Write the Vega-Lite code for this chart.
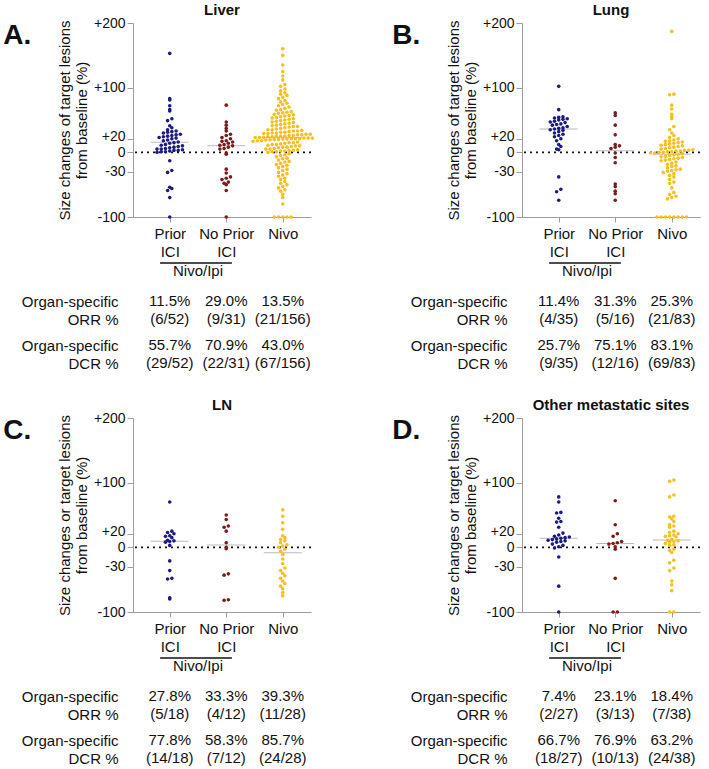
{
  "$schema": "https://vega.github.io/schema/vega-lite/v6.json",
  "padding": {"left": 3, "top": 3, "right": 2, "bottom": 0},
  "config": {
    "font": "Liberation Sans",
    "view": {"stroke": null},
    "axis": {"domainColor": "#9d9d9d", "tickColor": "#9d9d9d", "labelColor": "#111", "titleColor": "#111", "labelFontSize": 15, "titleFontSize": 15, "titleFontWeight": "normal", "grid": false, "labelOverlap": false, "labelFlush": false, "labelBound": false},
    "axisY": {"tickSize": 6, "labelPadding": 2, "titlePadding": 4, "titleLineHeight": 17, "labelFontSize": 14},
    "axisX": {"tickSize": 5, "labelPadding": 4, "labelLineHeight": 18},
    "title": {"fontSize": 15, "fontWeight": "bold", "color": "#111", "offset": -2},
    "text": {"fontSize": 15, "color": "#111"}
  },
  "datasets": {
    "liver": [
      {"arm":"Prior ICI","change":153},{"arm":"Prior ICI","change":83},{"arm":"Prior ICI","change":81},{"arm":"Prior ICI","change":72},{"arm":"Prior ICI","change":66},{"arm":"Prior ICI","change":64},{"arm":"Prior ICI","change":52},{"arm":"Prior ICI","change":49},{"arm":"Prior ICI","change":41},{"arm":"Prior ICI","change":38},
      {"arm":"Prior ICI","change":35},{"arm":"Prior ICI","change":33},{"arm":"Prior ICI","change":32},{"arm":"Prior ICI","change":31},{"arm":"Prior ICI","change":30},{"arm":"Prior ICI","change":28},{"arm":"Prior ICI","change":27},{"arm":"Prior ICI","change":26},{"arm":"Prior ICI","change":25},{"arm":"Prior ICI","change":24},
      {"arm":"Prior ICI","change":23},{"arm":"Prior ICI","change":22},{"arm":"Prior ICI","change":21},{"arm":"Prior ICI","change":19},{"arm":"Prior ICI","change":18},{"arm":"Prior ICI","change":16},{"arm":"Prior ICI","change":15},{"arm":"Prior ICI","change":14},{"arm":"Prior ICI","change":12},{"arm":"Prior ICI","change":11},
      {"arm":"Prior ICI","change":10},{"arm":"Prior ICI","change":9},{"arm":"Prior ICI","change":8},{"arm":"Prior ICI","change":7},{"arm":"Prior ICI","change":6},{"arm":"Prior ICI","change":5},{"arm":"Prior ICI","change":5},{"arm":"Prior ICI","change":4},{"arm":"Prior ICI","change":3},{"arm":"Prior ICI","change":3},
      {"arm":"Prior ICI","change":2},{"arm":"Prior ICI","change":1},{"arm":"Prior ICI","change":1},{"arm":"Prior ICI","change":0},{"arm":"Prior ICI","change":-13},{"arm":"Prior ICI","change":-28},{"arm":"Prior ICI","change":-31},{"arm":"Prior ICI","change":-54},{"arm":"Prior ICI","change":-56},{"arm":"Prior ICI","change":-59},
      {"arm":"Prior ICI","change":-70},{"arm":"Prior ICI","change":-100},
      {"arm":"No Prior ICI","change":73},{"arm":"No Prior ICI","change":47},{"arm":"No Prior ICI","change":42},{"arm":"No Prior ICI","change":37},{"arm":"No Prior ICI","change":33},{"arm":"No Prior ICI","change":28},{"arm":"No Prior ICI","change":26},{"arm":"No Prior ICI","change":23},{"arm":"No Prior ICI","change":21},{"arm":"No Prior ICI","change":18},
      {"arm":"No Prior ICI","change":17},{"arm":"No Prior ICI","change":16},{"arm":"No Prior ICI","change":14},{"arm":"No Prior ICI","change":12},{"arm":"No Prior ICI","change":11},{"arm":"No Prior ICI","change":10},{"arm":"No Prior ICI","change":8},{"arm":"No Prior ICI","change":6},{"arm":"No Prior ICI","change":5},{"arm":"No Prior ICI","change":-1},
      {"arm":"No Prior ICI","change":-3},{"arm":"No Prior ICI","change":-26},{"arm":"No Prior ICI","change":-32},{"arm":"No Prior ICI","change":-38},{"arm":"No Prior ICI","change":-40},{"arm":"No Prior ICI","change":-42},{"arm":"No Prior ICI","change":-46},{"arm":"No Prior ICI","change":-48},{"arm":"No Prior ICI","change":-50},{"arm":"No Prior ICI","change":-59},
      {"arm":"No Prior ICI","change":-100},
      {"arm":"Nivo","change":160},{"arm":"Nivo","change":150},{"arm":"Nivo","change":135},{"arm":"Nivo","change":125},{"arm":"Nivo","change":118},{"arm":"Nivo","change":112},{"arm":"Nivo","change":105},{"arm":"Nivo","change":102},{"arm":"Nivo","change":98},{"arm":"Nivo","change":95},
      {"arm":"Nivo","change":92},{"arm":"Nivo","change":90},{"arm":"Nivo","change":88},{"arm":"Nivo","change":85},{"arm":"Nivo","change":83},{"arm":"Nivo","change":80},{"arm":"Nivo","change":78},{"arm":"Nivo","change":76},{"arm":"Nivo","change":74},{"arm":"Nivo","change":72},
      {"arm":"Nivo","change":70},{"arm":"Nivo","change":68},{"arm":"Nivo","change":66},{"arm":"Nivo","change":65},{"arm":"Nivo","change":63},{"arm":"Nivo","change":62},{"arm":"Nivo","change":61},{"arm":"Nivo","change":60.5},
      {"arm":"Nivo","change":59},{"arm":"Nivo","change":58},{"arm":"Nivo","change":57},{"arm":"Nivo","change":56},{"arm":"Nivo","change":55},{"arm":"Nivo","change":54},{"arm":"Nivo","change":53},{"arm":"Nivo","change":52},{"arm":"Nivo","change":51},{"arm":"Nivo","change":50},
      {"arm":"Nivo","change":49},{"arm":"Nivo","change":48},{"arm":"Nivo","change":47},{"arm":"Nivo","change":46},{"arm":"Nivo","change":45},{"arm":"Nivo","change":44},{"arm":"Nivo","change":43},{"arm":"Nivo","change":42},{"arm":"Nivo","change":41},{"arm":"Nivo","change":40},
      {"arm":"Nivo","change":40},{"arm":"Nivo","change":39},{"arm":"Nivo","change":38},{"arm":"Nivo","change":37},{"arm":"Nivo","change":36},{"arm":"Nivo","change":35},{"arm":"Nivo","change":35},{"arm":"Nivo","change":34},{"arm":"Nivo","change":33},{"arm":"Nivo","change":33},
      {"arm":"Nivo","change":32},{"arm":"Nivo","change":31},{"arm":"Nivo","change":31},{"arm":"Nivo","change":30},{"arm":"Nivo","change":30},{"arm":"Nivo","change":29},{"arm":"Nivo","change":29},{"arm":"Nivo","change":28},{"arm":"Nivo","change":28},{"arm":"Nivo","change":27},
      {"arm":"Nivo","change":27},{"arm":"Nivo","change":26},{"arm":"Nivo","change":26},{"arm":"Nivo","change":25},{"arm":"Nivo","change":25},{"arm":"Nivo","change":25},{"arm":"Nivo","change":24},{"arm":"Nivo","change":24},{"arm":"Nivo","change":23},{"arm":"Nivo","change":23},
      {"arm":"Nivo","change":23},{"arm":"Nivo","change":22},{"arm":"Nivo","change":22},{"arm":"Nivo","change":22},{"arm":"Nivo","change":21},{"arm":"Nivo","change":21},{"arm":"Nivo","change":21},{"arm":"Nivo","change":20.5},{"arm":"Nivo","change":20.5},{"arm":"Nivo","change":20},
      {"arm":"Nivo","change":20},
      {"arm":"Nivo","change":19.5},{"arm":"Nivo","change":19},{"arm":"Nivo","change":18},{"arm":"Nivo","change":18},{"arm":"Nivo","change":17},{"arm":"Nivo","change":16},{"arm":"Nivo","change":15},{"arm":"Nivo","change":15},{"arm":"Nivo","change":14},{"arm":"Nivo","change":13},
      {"arm":"Nivo","change":12},{"arm":"Nivo","change":12},{"arm":"Nivo","change":11},{"arm":"Nivo","change":10},{"arm":"Nivo","change":10},{"arm":"Nivo","change":9},{"arm":"Nivo","change":8},{"arm":"Nivo","change":8},{"arm":"Nivo","change":7},{"arm":"Nivo","change":6},
      {"arm":"Nivo","change":5},{"arm":"Nivo","change":5},{"arm":"Nivo","change":4},{"arm":"Nivo","change":3},{"arm":"Nivo","change":3},{"arm":"Nivo","change":2},{"arm":"Nivo","change":2},{"arm":"Nivo","change":1},{"arm":"Nivo","change":1},{"arm":"Nivo","change":0},
      {"arm":"Nivo","change":-2},{"arm":"Nivo","change":-4},{"arm":"Nivo","change":-5},{"arm":"Nivo","change":-7},{"arm":"Nivo","change":-9},{"arm":"Nivo","change":-10},{"arm":"Nivo","change":-12},{"arm":"Nivo","change":-14},{"arm":"Nivo","change":-15},{"arm":"Nivo","change":-17},
      {"arm":"Nivo","change":-19},{"arm":"Nivo","change":-20},{"arm":"Nivo","change":-22},{"arm":"Nivo","change":-24},{"arm":"Nivo","change":-26},{"arm":"Nivo","change":-28},
      {"arm":"Nivo","change":-31},{"arm":"Nivo","change":-33},{"arm":"Nivo","change":-35},{"arm":"Nivo","change":-37},{"arm":"Nivo","change":-40},{"arm":"Nivo","change":-42},{"arm":"Nivo","change":-45},{"arm":"Nivo","change":-48},{"arm":"Nivo","change":-50},{"arm":"Nivo","change":-53},
      {"arm":"Nivo","change":-55},{"arm":"Nivo","change":-58},{"arm":"Nivo","change":-60},{"arm":"Nivo","change":-65},{"arm":"Nivo","change":-70},{"arm":"Nivo","change":-80},{"arm":"Nivo","change":-100},{"arm":"Nivo","change":-100},{"arm":"Nivo","change":-100},{"arm":"Nivo","change":-100},
      {"arm":"Nivo","change":-100}
    ],
    "lung": [
      {"arm":"Prior ICI","change":102},{"arm":"Prior ICI","change":66},{"arm":"Prior ICI","change":55},{"arm":"Prior ICI","change":54},{"arm":"Prior ICI","change":53},{"arm":"Prior ICI","change":52},{"arm":"Prior ICI","change":51},{"arm":"Prior ICI","change":50},{"arm":"Prior ICI","change":48},{"arm":"Prior ICI","change":47},
      {"arm":"Prior ICI","change":46},{"arm":"Prior ICI","change":44},{"arm":"Prior ICI","change":43},{"arm":"Prior ICI","change":42},{"arm":"Prior ICI","change":40},{"arm":"Prior ICI","change":38},{"arm":"Prior ICI","change":37},{"arm":"Prior ICI","change":36},{"arm":"Prior ICI","change":35},{"arm":"Prior ICI","change":34},
      {"arm":"Prior ICI","change":32},{"arm":"Prior ICI","change":30},{"arm":"Prior ICI","change":28},{"arm":"Prior ICI","change":26},{"arm":"Prior ICI","change":24},{"arm":"Prior ICI","change":21},{"arm":"Prior ICI","change":18},{"arm":"Prior ICI","change":12},{"arm":"Prior ICI","change":9},{"arm":"Prior ICI","change":5},
      {"arm":"Prior ICI","change":4},{"arm":"Prior ICI","change":-38},{"arm":"Prior ICI","change":-57},{"arm":"Prior ICI","change":-61},{"arm":"Prior ICI","change":-74},
      {"arm":"No Prior ICI","change":61},{"arm":"No Prior ICI","change":57},{"arm":"No Prior ICI","change":42},{"arm":"No Prior ICI","change":27},{"arm":"No Prior ICI","change":12},{"arm":"No Prior ICI","change":10},{"arm":"No Prior ICI","change":8},{"arm":"No Prior ICI","change":6},
      {"arm":"No Prior ICI","change":-1},{"arm":"No Prior ICI","change":-8},{"arm":"No Prior ICI","change":-16},{"arm":"No Prior ICI","change":-49},{"arm":"No Prior ICI","change":-53},{"arm":"No Prior ICI","change":-60},{"arm":"No Prior ICI","change":-64},{"arm":"No Prior ICI","change":-74},
      {"arm":"Nivo","change":187},{"arm":"Nivo","change":90},{"arm":"Nivo","change":89},{"arm":"Nivo","change":73},{"arm":"Nivo","change":67},{"arm":"Nivo","change":59},{"arm":"Nivo","change":55},{"arm":"Nivo","change":52},{"arm":"Nivo","change":40},{"arm":"Nivo","change":35},
      {"arm":"Nivo","change":30},{"arm":"Nivo","change":26},{"arm":"Nivo","change":23},{"arm":"Nivo","change":21},{"arm":"Nivo","change":19},{"arm":"Nivo","change":18},{"arm":"Nivo","change":17},{"arm":"Nivo","change":16},{"arm":"Nivo","change":15},{"arm":"Nivo","change":14},
      {"arm":"Nivo","change":13},{"arm":"Nivo","change":12},{"arm":"Nivo","change":11},{"arm":"Nivo","change":10},{"arm":"Nivo","change":9},{"arm":"Nivo","change":8},{"arm":"Nivo","change":7},{"arm":"Nivo","change":6},{"arm":"Nivo","change":5},{"arm":"Nivo","change":4},
      {"arm":"Nivo","change":3},{"arm":"Nivo","change":3},{"arm":"Nivo","change":2},{"arm":"Nivo","change":2},{"arm":"Nivo","change":1},{"arm":"Nivo","change":1},{"arm":"Nivo","change":0},{"arm":"Nivo","change":0},{"arm":"Nivo","change":-1},{"arm":"Nivo","change":-1},
      {"arm":"Nivo","change":-2},{"arm":"Nivo","change":-3},{"arm":"Nivo","change":-4},{"arm":"Nivo","change":-5},{"arm":"Nivo","change":-6},{"arm":"Nivo","change":-7},{"arm":"Nivo","change":-8},{"arm":"Nivo","change":-9},{"arm":"Nivo","change":-10},{"arm":"Nivo","change":-11},
      {"arm":"Nivo","change":-12},{"arm":"Nivo","change":-13},{"arm":"Nivo","change":-15},{"arm":"Nivo","change":-17},{"arm":"Nivo","change":-19},{"arm":"Nivo","change":-21},{"arm":"Nivo","change":-22},{"arm":"Nivo","change":-24},{"arm":"Nivo","change":-26},{"arm":"Nivo","change":-27},
      {"arm":"Nivo","change":-28},{"arm":"Nivo","change":-29},{"arm":"Nivo","change":-31},{"arm":"Nivo","change":-33},{"arm":"Nivo","change":-36},{"arm":"Nivo","change":-38},{"arm":"Nivo","change":-42},{"arm":"Nivo","change":-46},{"arm":"Nivo","change":-48},{"arm":"Nivo","change":-55},
      {"arm":"Nivo","change":-62},{"arm":"Nivo","change":-65},{"arm":"Nivo","change":-68},{"arm":"Nivo","change":-70},{"arm":"Nivo","change":-72},{"arm":"Nivo","change":-100},{"arm":"Nivo","change":-100},{"arm":"Nivo","change":-100},{"arm":"Nivo","change":-100},{"arm":"Nivo","change":-100},
      {"arm":"Nivo","change":-100},{"arm":"Nivo","change":-100},{"arm":"Nivo","change":-100}
    ],
    "ln": [
      {"arm":"Prior ICI","change":70},{"arm":"Prior ICI","change":25},{"arm":"Prior ICI","change":23},{"arm":"Prior ICI","change":21},{"arm":"Prior ICI","change":18},{"arm":"Prior ICI","change":17},{"arm":"Prior ICI","change":15},{"arm":"Prior ICI","change":11},{"arm":"Prior ICI","change":10},{"arm":"Prior ICI","change":9},
      {"arm":"Prior ICI","change":8},{"arm":"Prior ICI","change":3},{"arm":"Prior ICI","change":-21},{"arm":"Prior ICI","change":-36},{"arm":"Prior ICI","change":-48},{"arm":"Prior ICI","change":-49},{"arm":"Prior ICI","change":-78},{"arm":"Prior ICI","change":-80},
      {"arm":"No Prior ICI","change":50},{"arm":"No Prior ICI","change":43},{"arm":"No Prior ICI","change":33},{"arm":"No Prior ICI","change":31},{"arm":"No Prior ICI","change":25},{"arm":"No Prior ICI","change":7},{"arm":"No Prior ICI","change":0},{"arm":"No Prior ICI","change":-2},
      {"arm":"No Prior ICI","change":-41},{"arm":"No Prior ICI","change":-43},{"arm":"No Prior ICI","change":-81},{"arm":"No Prior ICI","change":-82},
      {"arm":"Nivo","change":58},{"arm":"Nivo","change":48},{"arm":"Nivo","change":38},{"arm":"Nivo","change":28},{"arm":"Nivo","change":18},{"arm":"Nivo","change":15},{"arm":"Nivo","change":12},{"arm":"Nivo","change":10},{"arm":"Nivo","change":7},{"arm":"Nivo","change":4},
      {"arm":"Nivo","change":2},{"arm":"Nivo","change":0},{"arm":"Nivo","change":-3},{"arm":"Nivo","change":-6},{"arm":"Nivo","change":-11},{"arm":"Nivo","change":-18},{"arm":"Nivo","change":-25},{"arm":"Nivo","change":-32},{"arm":"Nivo","change":-36},{"arm":"Nivo","change":-40},
      {"arm":"Nivo","change":-44},{"arm":"Nivo","change":-48},{"arm":"Nivo","change":-52},{"arm":"Nivo","change":-56},{"arm":"Nivo","change":-60},{"arm":"Nivo","change":-64},{"arm":"Nivo","change":-70},{"arm":"Nivo","change":-75}
    ],
    "other": [
      {"arm":"Prior ICI","change":78},{"arm":"Prior ICI","change":70},{"arm":"Prior ICI","change":54},{"arm":"Prior ICI","change":53},{"arm":"Prior ICI","change":45},{"arm":"Prior ICI","change":40},{"arm":"Prior ICI","change":39},{"arm":"Prior ICI","change":31},{"arm":"Prior ICI","change":22},{"arm":"Prior ICI","change":19},
      {"arm":"Prior ICI","change":17},{"arm":"Prior ICI","change":16},{"arm":"Prior ICI","change":15},{"arm":"Prior ICI","change":14},{"arm":"Prior ICI","change":13},{"arm":"Prior ICI","change":12},{"arm":"Prior ICI","change":11},{"arm":"Prior ICI","change":10},{"arm":"Prior ICI","change":9},{"arm":"Prior ICI","change":8},
      {"arm":"Prior ICI","change":5},{"arm":"Prior ICI","change":3},{"arm":"Prior ICI","change":1},{"arm":"Prior ICI","change":-1},{"arm":"Prior ICI","change":-15},{"arm":"Prior ICI","change":-60},{"arm":"Prior ICI","change":-100},
      {"arm":"No Prior ICI","change":72},{"arm":"No Prior ICI","change":35},{"arm":"No Prior ICI","change":21},{"arm":"No Prior ICI","change":17},{"arm":"No Prior ICI","change":9},{"arm":"No Prior ICI","change":7},{"arm":"No Prior ICI","change":6},{"arm":"No Prior ICI","change":5},
      {"arm":"No Prior ICI","change":1},{"arm":"No Prior ICI","change":-3},{"arm":"No Prior ICI","change":-48},{"arm":"No Prior ICI","change":-100},{"arm":"No Prior ICI","change":-100},
      {"arm":"Nivo","change":104},{"arm":"Nivo","change":102},{"arm":"Nivo","change":81},{"arm":"Nivo","change":78},{"arm":"Nivo","change":48},{"arm":"Nivo","change":47},{"arm":"Nivo","change":44},{"arm":"Nivo","change":40},{"arm":"Nivo","change":35},{"arm":"Nivo","change":33},
      {"arm":"Nivo","change":31},{"arm":"Nivo","change":25},{"arm":"Nivo","change":23},{"arm":"Nivo","change":21},{"arm":"Nivo","change":19},{"arm":"Nivo","change":18},{"arm":"Nivo","change":17},{"arm":"Nivo","change":16},{"arm":"Nivo","change":12},{"arm":"Nivo","change":11},
      {"arm":"Nivo","change":10},{"arm":"Nivo","change":9},{"arm":"Nivo","change":8},{"arm":"Nivo","change":6},{"arm":"Nivo","change":4},{"arm":"Nivo","change":3},{"arm":"Nivo","change":-3},{"arm":"Nivo","change":-5},{"arm":"Nivo","change":-8},{"arm":"Nivo","change":-20},
      {"arm":"Nivo","change":-24},{"arm":"Nivo","change":-32},{"arm":"Nivo","change":-36},{"arm":"Nivo","change":-52},{"arm":"Nivo","change":-58},{"arm":"Nivo","change":-67},{"arm":"Nivo","change":-100},{"arm":"Nivo","change":-100}
    ],
    "rates": [
      {"site":"Liver","arm":"Prior ICI","measure":"ORR","rate":"11.5%","ratio":"(6/52)"},
      {"site":"Liver","arm":"No Prior ICI","measure":"ORR","rate":"29.0%","ratio":"(9/31)"},
      {"site":"Liver","arm":"Nivo","measure":"ORR","rate":"13.5%","ratio":"(21/156)"},
      {"site":"Liver","arm":"Prior ICI","measure":"DCR","rate":"55.7%","ratio":"(29/52)"},
      {"site":"Liver","arm":"No Prior ICI","measure":"DCR","rate":"70.9%","ratio":"(22/31)"},
      {"site":"Liver","arm":"Nivo","measure":"DCR","rate":"43.0%","ratio":"(67/156)"},
      {"site":"Lung","arm":"Prior ICI","measure":"ORR","rate":"11.4%","ratio":"(4/35)"},
      {"site":"Lung","arm":"No Prior ICI","measure":"ORR","rate":"31.3%","ratio":"(5/16)"},
      {"site":"Lung","arm":"Nivo","measure":"ORR","rate":"25.3%","ratio":"(21/83)"},
      {"site":"Lung","arm":"Prior ICI","measure":"DCR","rate":"25.7%","ratio":"(9/35)"},
      {"site":"Lung","arm":"No Prior ICI","measure":"DCR","rate":"75.1%","ratio":"(12/16)"},
      {"site":"Lung","arm":"Nivo","measure":"DCR","rate":"83.1%","ratio":"(69/83)"},
      {"site":"LN","arm":"Prior ICI","measure":"ORR","rate":"27.8%","ratio":"(5/18)"},
      {"site":"LN","arm":"No Prior ICI","measure":"ORR","rate":"33.3%","ratio":"(4/12)"},
      {"site":"LN","arm":"Nivo","measure":"ORR","rate":"39.3%","ratio":"(11/28)"},
      {"site":"LN","arm":"Prior ICI","measure":"DCR","rate":"77.8%","ratio":"(14/18)"},
      {"site":"LN","arm":"No Prior ICI","measure":"DCR","rate":"58.3%","ratio":"(7/12)"},
      {"site":"LN","arm":"Nivo","measure":"DCR","rate":"85.7%","ratio":"(24/28)"},
      {"site":"Other","arm":"Prior ICI","measure":"ORR","rate":"7.4%","ratio":"(2/27)"},
      {"site":"Other","arm":"No Prior ICI","measure":"ORR","rate":"23.1%","ratio":"(3/13)"},
      {"site":"Other","arm":"Nivo","measure":"ORR","rate":"18.4%","ratio":"(7/38)"},
      {"site":"Other","arm":"Prior ICI","measure":"DCR","rate":"66.7%","ratio":"(18/27)"},
      {"site":"Other","arm":"No Prior ICI","measure":"DCR","rate":"76.9%","ratio":"(10/13)"},
      {"site":"Other","arm":"Nivo","measure":"DCR","rate":"63.2%","ratio":"(24/38)"}
    ]
  },
  "columns": 2,
  "spacing": {"row": 27, "column": 77},
  "concat": [
    {
      "title": {"text": "A.", "anchor": "start", "frame": "bounds", "fontSize": 28, "baseline": "top", "offset": 0, "dx": -18, "dy": 47},
      "spacing": 0,
      "vconcat": [
        {
          "title": "Liver",
          "width": 178, "height": 194,
          "data": {"name": "liver"},
          "layer": [
            {"data": {"values": [{"ref": 0}]}, "mark": {"type": "rule", "strokeDash": [2, 4], "strokeWidth": 1.8, "color": "#111"},
             "encoding": {"y": {"field": "ref", "type": "quantitative", "scale": {"domain": [-100, 200], "nice": false, "zero": false}, "axis": {"values": [-100, -30, 0, 20, 100, 200], "title": ["Size changes of target lesions", "from baseline (%)"], "labelExpr": "datum.value > 0 ? '+' + datum.value : '' + datum.value", "labelOffset": {"condition": {"test": "datum.value == 20", "value": -2.5}, "value": 0}}}}},
            {"transform": [{"aggregate": [{"op": "median", "field": "change", "as": "median"}], "groupby": ["arm"]}, {"calculate": "indexof(['Prior ICI', 'No Prior ICI', 'Nivo'], datum.arm) + 1", "as": "slot"}],
             "mark": {"type": "tick", "orient": "horizontal", "size": 38, "thickness": 1, "color": "#9d9d9d"},
             "encoding": {
               "x": {"field": "slot", "type": "quantitative", "scale": {"domain": [0.35, 3.5], "nice": false, "zero": false}, "axis": {"values": [1, 2, 3], "title": null, "labelExpr": "datum.value == 1 ? ['Prior', 'ICI'] : datum.value == 2 ? ['No Prior', 'ICI'] : 'Nivo'"}},
               "y": {"field": "median", "type": "quantitative", "scale": {"domain": [-100, 200], "nice": false, "zero": false}, "axis": {"values": [-100, -30, 0, 20, 100, 200], "title": ["Size changes of target lesions", "from baseline (%)"], "labelExpr": "datum.value > 0 ? '+' + datum.value : '' + datum.value", "labelOffset": {"condition": {"test": "datum.value == 20", "value": -2.5}, "value": 0}}}}},
            {"transform": [
               {"calculate": "indexof(['Prior ICI', 'No Prior ICI', 'Nivo'], datum.arm) + 1", "as": "slot"},
               {"calculate": "floor((datum.change + 103) / 6)", "as": "band"},
               {"window": [{"op": "row_number", "as": "k"}], "groupby": ["arm", "band"], "sort": [{"field": "change"}]},
               {"joinaggregate": [{"op": "count", "as": "n"}], "groupby": ["arm", "band"]},
               {"calculate": "datum.slot + (datum.k - (datum.n + 1) / 2) * 0.075", "as": "dodge"}
             ],
             "mark": {"type": "circle", "size": 13, "opacity": 1},
             "encoding": {
               "x": {"field": "dodge", "type": "quantitative", "scale": {"domain": [0.35, 3.5], "nice": false, "zero": false}, "axis": {"values": [1, 2, 3], "title": null, "labelExpr": "datum.value == 1 ? ['Prior', 'ICI'] : datum.value == 2 ? ['No Prior', 'ICI'] : 'Nivo'"}},
               "y": {"field": "change", "type": "quantitative", "scale": {"domain": [-100, 200], "nice": false, "zero": false}, "axis": {"values": [-100, -30, 0, 20, 100, 200], "title": ["Size changes of target lesions", "from baseline (%)"], "labelExpr": "datum.value > 0 ? '+' + datum.value : '' + datum.value", "labelOffset": {"condition": {"test": "datum.value == 20", "value": -2.5}, "value": 0}}},
               "color": {"field": "arm", "type": "nominal", "scale": {"domain": ["Prior ICI", "No Prior ICI", "Nivo"], "range": ["#1b1a80", "#7d1a1b", "#f6bf1f"]}, "legend": null}
             }}
          ]
        },
        {
          "width": 178, "height": 8,
          "data": {"values": [{"span": "Nivo/Ipi", "first": "Prior ICI", "last": "No Prior ICI"}]},
          "transform": [
            {"calculate": "indexof(['Prior ICI', 'No Prior ICI', 'Nivo'], datum.first) + 1", "as": "a"},
            {"calculate": "indexof(['Prior ICI', 'No Prior ICI', 'Nivo'], datum.last) + 1", "as": "b"},
            {"calculate": "datum.a - 0.17", "as": "left"},
            {"calculate": "datum.b + 0.1", "as": "right"},
            {"calculate": "(datum.a + datum.b) / 2", "as": "mid"}
          ],
          "layer": [
            {"mark": {"type": "rule", "color": "#111", "strokeWidth": 1.5}, "encoding": {"x": {"field": "left", "type": "quantitative", "scale": {"domain": [0.35, 3.5], "nice": false, "zero": false}, "axis": null}, "x2": {"field": "right"}}},
            {"mark": {"type": "text", "baseline": "top", "dy": 1}, "encoding": {"x": {"field": "mid", "type": "quantitative", "axis": null}, "text": {"field": "span"}}}
          ]
        },
        {
          "width": 178, "height": 88,
          "data": {"name": "rates"},
          "transform": [
            {"filter": "datum.site == 'Liver'"},
            {"calculate": "indexof(['Prior ICI', 'No Prior ICI', 'Nivo'], datum.arm) + 1", "as": "slot"},
            {"calculate": "datum.rate + '\\n' + datum.ratio", "as": "cell"}
          ],
          "mark": {"type": "text", "lineBreak": "\n", "lineHeight": 18},
          "encoding": {
            "x": {"field": "slot", "type": "quantitative", "scale": {"domain": [0.35, 3.5], "nice": false, "zero": false}, "axis": null},
            "y": {"field": "measure", "type": "nominal", "sort": ["ORR", "DCR"], "axis": {"title": null, "domain": false, "ticks": false, "labelPadding": 15, "labelFontSize": 15, "labelLineHeight": 18, "labelExpr": "['Organ-specific', datum.value + ' %']"}},
            "text": {"field": "cell"}
          }
        }
      ]
    },
    {
      "title": {"text": "B.", "anchor": "start", "frame": "bounds", "fontSize": 28, "baseline": "top", "offset": 0, "dx": -18, "dy": 47},
      "spacing": 0,
      "vconcat": [
        {
          "title": "Lung",
          "width": 178, "height": 194,
          "data": {"name": "lung"},
          "layer": [
            {"data": {"values": [{"ref": 0}]}, "mark": {"type": "rule", "strokeDash": [2, 4], "strokeWidth": 1.8, "color": "#111"},
             "encoding": {"y": {"field": "ref", "type": "quantitative", "scale": {"domain": [-100, 200], "nice": false, "zero": false}, "axis": {"values": [-100, -30, 0, 20, 100, 200], "title": ["Size changes of target lesions", "from baseline (%)"], "labelExpr": "datum.value > 0 ? '+' + datum.value : '' + datum.value", "labelOffset": {"condition": {"test": "datum.value == 20", "value": -2.5}, "value": 0}}}}},
            {"transform": [{"aggregate": [{"op": "median", "field": "change", "as": "median"}], "groupby": ["arm"]}, {"calculate": "indexof(['Prior ICI', 'No Prior ICI', 'Nivo'], datum.arm) + 1", "as": "slot"}],
             "mark": {"type": "tick", "orient": "horizontal", "size": 38, "thickness": 1, "color": "#9d9d9d"},
             "encoding": {
               "x": {"field": "slot", "type": "quantitative", "scale": {"domain": [0.35, 3.5], "nice": false, "zero": false}, "axis": {"values": [1, 2, 3], "title": null, "labelExpr": "datum.value == 1 ? ['Prior', 'ICI'] : datum.value == 2 ? ['No Prior', 'ICI'] : 'Nivo'"}},
               "y": {"field": "median", "type": "quantitative", "scale": {"domain": [-100, 200], "nice": false, "zero": false}, "axis": {"values": [-100, -30, 0, 20, 100, 200], "title": ["Size changes of target lesions", "from baseline (%)"], "labelExpr": "datum.value > 0 ? '+' + datum.value : '' + datum.value", "labelOffset": {"condition": {"test": "datum.value == 20", "value": -2.5}, "value": 0}}}}},
            {"transform": [
               {"calculate": "indexof(['Prior ICI', 'No Prior ICI', 'Nivo'], datum.arm) + 1", "as": "slot"},
               {"calculate": "floor((datum.change + 103) / 6)", "as": "band"},
               {"window": [{"op": "row_number", "as": "k"}], "groupby": ["arm", "band"], "sort": [{"field": "change"}]},
               {"joinaggregate": [{"op": "count", "as": "n"}], "groupby": ["arm", "band"]},
               {"calculate": "datum.slot + (datum.k - (datum.n + 1) / 2) * 0.075", "as": "dodge"}
             ],
             "mark": {"type": "circle", "size": 13, "opacity": 1},
             "encoding": {
               "x": {"field": "dodge", "type": "quantitative", "scale": {"domain": [0.35, 3.5], "nice": false, "zero": false}, "axis": {"values": [1, 2, 3], "title": null, "labelExpr": "datum.value == 1 ? ['Prior', 'ICI'] : datum.value == 2 ? ['No Prior', 'ICI'] : 'Nivo'"}},
               "y": {"field": "change", "type": "quantitative", "scale": {"domain": [-100, 200], "nice": false, "zero": false}, "axis": {"values": [-100, -30, 0, 20, 100, 200], "title": ["Size changes of target lesions", "from baseline (%)"], "labelExpr": "datum.value > 0 ? '+' + datum.value : '' + datum.value", "labelOffset": {"condition": {"test": "datum.value == 20", "value": -2.5}, "value": 0}}},
               "color": {"field": "arm", "type": "nominal", "scale": {"domain": ["Prior ICI", "No Prior ICI", "Nivo"], "range": ["#1b1a80", "#7d1a1b", "#f6bf1f"]}, "legend": null}
             }}
          ]
        },
        {
          "width": 178, "height": 8,
          "data": {"values": [{"span": "Nivo/Ipi", "first": "Prior ICI", "last": "No Prior ICI"}]},
          "transform": [
            {"calculate": "indexof(['Prior ICI', 'No Prior ICI', 'Nivo'], datum.first) + 1", "as": "a"},
            {"calculate": "indexof(['Prior ICI', 'No Prior ICI', 'Nivo'], datum.last) + 1", "as": "b"},
            {"calculate": "datum.a - 0.17", "as": "left"},
            {"calculate": "datum.b + 0.1", "as": "right"},
            {"calculate": "(datum.a + datum.b) / 2", "as": "mid"}
          ],
          "layer": [
            {"mark": {"type": "rule", "color": "#111", "strokeWidth": 1.5}, "encoding": {"x": {"field": "left", "type": "quantitative", "scale": {"domain": [0.35, 3.5], "nice": false, "zero": false}, "axis": null}, "x2": {"field": "right"}}},
            {"mark": {"type": "text", "baseline": "top", "dy": 1}, "encoding": {"x": {"field": "mid", "type": "quantitative", "axis": null}, "text": {"field": "span"}}}
          ]
        },
        {
          "width": 178, "height": 88,
          "data": {"name": "rates"},
          "transform": [
            {"filter": "datum.site == 'Lung'"},
            {"calculate": "indexof(['Prior ICI', 'No Prior ICI', 'Nivo'], datum.arm) + 1", "as": "slot"},
            {"calculate": "datum.rate + '\\n' + datum.ratio", "as": "cell"}
          ],
          "mark": {"type": "text", "lineBreak": "\n", "lineHeight": 18},
          "encoding": {
            "x": {"field": "slot", "type": "quantitative", "scale": {"domain": [0.35, 3.5], "nice": false, "zero": false}, "axis": null},
            "y": {"field": "measure", "type": "nominal", "sort": ["ORR", "DCR"], "axis": {"title": null, "domain": false, "ticks": false, "labelPadding": 15, "labelFontSize": 15, "labelLineHeight": 18, "labelExpr": "['Organ-specific', datum.value + ' %']"}},
            "text": {"field": "cell"}
          }
        }
      ]
    },
    {
      "title": {"text": "C.", "anchor": "start", "frame": "bounds", "fontSize": 28, "baseline": "top", "offset": 0, "dx": -18, "dy": 47},
      "spacing": 0,
      "vconcat": [
        {
          "title": "LN",
          "width": 178, "height": 194,
          "data": {"name": "ln"},
          "layer": [
            {"data": {"values": [{"ref": 0}]}, "mark": {"type": "rule", "strokeDash": [2, 4], "strokeWidth": 1.8, "color": "#111"},
             "encoding": {"y": {"field": "ref", "type": "quantitative", "scale": {"domain": [-100, 200], "nice": false, "zero": false}, "axis": {"values": [-100, -30, 0, 20, 100, 200], "title": ["Size changes or target lesions", "from baseline (%)"], "labelExpr": "datum.value > 0 ? '+' + datum.value : '' + datum.value", "labelOffset": {"condition": {"test": "datum.value == 20", "value": -2.5}, "value": 0}}}}},
            {"transform": [{"aggregate": [{"op": "median", "field": "change", "as": "median"}], "groupby": ["arm"]}, {"calculate": "indexof(['Prior ICI', 'No Prior ICI', 'Nivo'], datum.arm) + 1", "as": "slot"}],
             "mark": {"type": "tick", "orient": "horizontal", "size": 38, "thickness": 1, "color": "#9d9d9d"},
             "encoding": {
               "x": {"field": "slot", "type": "quantitative", "scale": {"domain": [0.35, 3.5], "nice": false, "zero": false}, "axis": {"values": [1, 2, 3], "title": null, "labelExpr": "datum.value == 1 ? ['Prior', 'ICI'] : datum.value == 2 ? ['No Prior', 'ICI'] : 'Nivo'"}},
               "y": {"field": "median", "type": "quantitative", "scale": {"domain": [-100, 200], "nice": false, "zero": false}, "axis": {"values": [-100, -30, 0, 20, 100, 200], "title": ["Size changes or target lesions", "from baseline (%)"], "labelExpr": "datum.value > 0 ? '+' + datum.value : '' + datum.value", "labelOffset": {"condition": {"test": "datum.value == 20", "value": -2.5}, "value": 0}}}}},
            {"transform": [
               {"calculate": "indexof(['Prior ICI', 'No Prior ICI', 'Nivo'], datum.arm) + 1", "as": "slot"},
               {"calculate": "floor((datum.change + 103) / 6)", "as": "band"},
               {"window": [{"op": "row_number", "as": "k"}], "groupby": ["arm", "band"], "sort": [{"field": "change"}]},
               {"joinaggregate": [{"op": "count", "as": "n"}], "groupby": ["arm", "band"]},
               {"calculate": "datum.slot + (datum.k - (datum.n + 1) / 2) * 0.075", "as": "dodge"}
             ],
             "mark": {"type": "circle", "size": 13, "opacity": 1},
             "encoding": {
               "x": {"field": "dodge", "type": "quantitative", "scale": {"domain": [0.35, 3.5], "nice": false, "zero": false}, "axis": {"values": [1, 2, 3], "title": null, "labelExpr": "datum.value == 1 ? ['Prior', 'ICI'] : datum.value == 2 ? ['No Prior', 'ICI'] : 'Nivo'"}},
               "y": {"field": "change", "type": "quantitative", "scale": {"domain": [-100, 200], "nice": false, "zero": false}, "axis": {"values": [-100, -30, 0, 20, 100, 200], "title": ["Size changes or target lesions", "from baseline (%)"], "labelExpr": "datum.value > 0 ? '+' + datum.value : '' + datum.value", "labelOffset": {"condition": {"test": "datum.value == 20", "value": -2.5}, "value": 0}}},
               "color": {"field": "arm", "type": "nominal", "scale": {"domain": ["Prior ICI", "No Prior ICI", "Nivo"], "range": ["#1b1a80", "#7d1a1b", "#f6bf1f"]}, "legend": null}
             }}
          ]
        },
        {
          "width": 178, "height": 8,
          "data": {"values": [{"span": "Nivo/Ipi", "first": "Prior ICI", "last": "No Prior ICI"}]},
          "transform": [
            {"calculate": "indexof(['Prior ICI', 'No Prior ICI', 'Nivo'], datum.first) + 1", "as": "a"},
            {"calculate": "indexof(['Prior ICI', 'No Prior ICI', 'Nivo'], datum.last) + 1", "as": "b"},
            {"calculate": "datum.a - 0.17", "as": "left"},
            {"calculate": "datum.b + 0.1", "as": "right"},
            {"calculate": "(datum.a + datum.b) / 2", "as": "mid"}
          ],
          "layer": [
            {"mark": {"type": "rule", "color": "#111", "strokeWidth": 1.5}, "encoding": {"x": {"field": "left", "type": "quantitative", "scale": {"domain": [0.35, 3.5], "nice": false, "zero": false}, "axis": null}, "x2": {"field": "right"}}},
            {"mark": {"type": "text", "baseline": "top", "dy": 1}, "encoding": {"x": {"field": "mid", "type": "quantitative", "axis": null}, "text": {"field": "span"}}}
          ]
        },
        {
          "width": 178, "height": 88,
          "data": {"name": "rates"},
          "transform": [
            {"filter": "datum.site == 'LN'"},
            {"calculate": "indexof(['Prior ICI', 'No Prior ICI', 'Nivo'], datum.arm) + 1", "as": "slot"},
            {"calculate": "datum.rate + '\\n' + datum.ratio", "as": "cell"}
          ],
          "mark": {"type": "text", "lineBreak": "\n", "lineHeight": 18},
          "encoding": {
            "x": {"field": "slot", "type": "quantitative", "scale": {"domain": [0.35, 3.5], "nice": false, "zero": false}, "axis": null},
            "y": {"field": "measure", "type": "nominal", "sort": ["ORR", "DCR"], "axis": {"title": null, "domain": false, "ticks": false, "labelPadding": 15, "labelFontSize": 15, "labelLineHeight": 18, "labelExpr": "['Organ-specific', datum.value + ' %']"}},
            "text": {"field": "cell"}
          }
        }
      ]
    },
    {
      "title": {"text": "D.", "anchor": "start", "frame": "bounds", "fontSize": 28, "baseline": "top", "offset": 0, "dx": -18, "dy": 47},
      "spacing": 0,
      "vconcat": [
        {
          "title": "Other metastatic sites",
          "width": 178, "height": 194,
          "data": {"name": "other"},
          "layer": [
            {"data": {"values": [{"ref": 0}]}, "mark": {"type": "rule", "strokeDash": [2, 4], "strokeWidth": 1.8, "color": "#111"},
             "encoding": {"y": {"field": "ref", "type": "quantitative", "scale": {"domain": [-100, 200], "nice": false, "zero": false}, "axis": {"values": [-100, -30, 0, 20, 100, 200], "title": ["Size changes or target lesions", "from baseline (%)"], "labelExpr": "datum.value > 0 ? '+' + datum.value : '' + datum.value", "labelOffset": {"condition": {"test": "datum.value == 20", "value": -2.5}, "value": 0}}}}},
            {"transform": [{"aggregate": [{"op": "median", "field": "change", "as": "median"}], "groupby": ["arm"]}, {"calculate": "indexof(['Prior ICI', 'No Prior ICI', 'Nivo'], datum.arm) + 1", "as": "slot"}],
             "mark": {"type": "tick", "orient": "horizontal", "size": 38, "thickness": 1, "color": "#9d9d9d"},
             "encoding": {
               "x": {"field": "slot", "type": "quantitative", "scale": {"domain": [0.35, 3.5], "nice": false, "zero": false}, "axis": {"values": [1, 2, 3], "title": null, "labelExpr": "datum.value == 1 ? ['Prior', 'ICI'] : datum.value == 2 ? ['No Prior', 'ICI'] : 'Nivo'"}},
               "y": {"field": "median", "type": "quantitative", "scale": {"domain": [-100, 200], "nice": false, "zero": false}, "axis": {"values": [-100, -30, 0, 20, 100, 200], "title": ["Size changes or target lesions", "from baseline (%)"], "labelExpr": "datum.value > 0 ? '+' + datum.value : '' + datum.value", "labelOffset": {"condition": {"test": "datum.value == 20", "value": -2.5}, "value": 0}}}}},
            {"transform": [
               {"calculate": "indexof(['Prior ICI', 'No Prior ICI', 'Nivo'], datum.arm) + 1", "as": "slot"},
               {"calculate": "floor((datum.change + 103) / 6)", "as": "band"},
               {"window": [{"op": "row_number", "as": "k"}], "groupby": ["arm", "band"], "sort": [{"field": "change"}]},
               {"joinaggregate": [{"op": "count", "as": "n"}], "groupby": ["arm", "band"]},
               {"calculate": "datum.slot + (datum.k - (datum.n + 1) / 2) * 0.075", "as": "dodge"}
             ],
             "mark": {"type": "circle", "size": 13, "opacity": 1},
             "encoding": {
               "x": {"field": "dodge", "type": "quantitative", "scale": {"domain": [0.35, 3.5], "nice": false, "zero": false}, "axis": {"values": [1, 2, 3], "title": null, "labelExpr": "datum.value == 1 ? ['Prior', 'ICI'] : datum.value == 2 ? ['No Prior', 'ICI'] : 'Nivo'"}},
               "y": {"field": "change", "type": "quantitative", "scale": {"domain": [-100, 200], "nice": false, "zero": false}, "axis": {"values": [-100, -30, 0, 20, 100, 200], "title": ["Size changes or target lesions", "from baseline (%)"], "labelExpr": "datum.value > 0 ? '+' + datum.value : '' + datum.value", "labelOffset": {"condition": {"test": "datum.value == 20", "value": -2.5}, "value": 0}}},
               "color": {"field": "arm", "type": "nominal", "scale": {"domain": ["Prior ICI", "No Prior ICI", "Nivo"], "range": ["#1b1a80", "#7d1a1b", "#f6bf1f"]}, "legend": null}
             }}
          ]
        },
        {
          "width": 178, "height": 8,
          "data": {"values": [{"span": "Nivo/Ipi", "first": "Prior ICI", "last": "No Prior ICI"}]},
          "transform": [
            {"calculate": "indexof(['Prior ICI', 'No Prior ICI', 'Nivo'], datum.first) + 1", "as": "a"},
            {"calculate": "indexof(['Prior ICI', 'No Prior ICI', 'Nivo'], datum.last) + 1", "as": "b"},
            {"calculate": "datum.a - 0.17", "as": "left"},
            {"calculate": "datum.b + 0.1", "as": "right"},
            {"calculate": "(datum.a + datum.b) / 2", "as": "mid"}
          ],
          "layer": [
            {"mark": {"type": "rule", "color": "#111", "strokeWidth": 1.5}, "encoding": {"x": {"field": "left", "type": "quantitative", "scale": {"domain": [0.35, 3.5], "nice": false, "zero": false}, "axis": null}, "x2": {"field": "right"}}},
            {"mark": {"type": "text", "baseline": "top", "dy": 1}, "encoding": {"x": {"field": "mid", "type": "quantitative", "axis": null}, "text": {"field": "span"}}}
          ]
        },
        {
          "width": 178, "height": 88,
          "data": {"name": "rates"},
          "transform": [
            {"filter": "datum.site == 'Other'"},
            {"calculate": "indexof(['Prior ICI', 'No Prior ICI', 'Nivo'], datum.arm) + 1", "as": "slot"},
            {"calculate": "datum.rate + '\\n' + datum.ratio", "as": "cell"}
          ],
          "mark": {"type": "text", "lineBreak": "\n", "lineHeight": 18},
          "encoding": {
            "x": {"field": "slot", "type": "quantitative", "scale": {"domain": [0.35, 3.5], "nice": false, "zero": false}, "axis": null},
            "y": {"field": "measure", "type": "nominal", "sort": ["ORR", "DCR"], "axis": {"title": null, "domain": false, "ticks": false, "labelPadding": 15, "labelFontSize": 15, "labelLineHeight": 18, "labelExpr": "['Organ-specific', datum.value + ' %']"}},
            "text": {"field": "cell"}
          }
        }
      ]
    }
  ]
}
